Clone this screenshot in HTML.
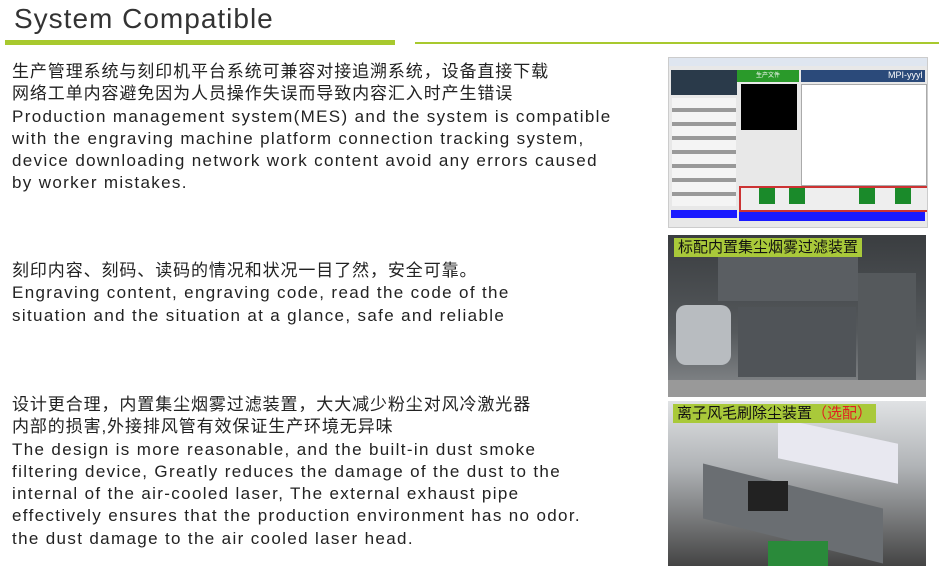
<!DOCTYPE html>
<html><head><meta charset="utf-8"><style>
body{margin:0;width:939px;height:574px;background:#fff;position:relative;overflow:hidden;font-family:"Liberation Sans","Noto Sans CJK SC",sans-serif;color:#222}
.t{position:absolute;left:14px;top:3px;font-size:28px;color:#333;letter-spacing:1px}
.b1{position:absolute;left:5px;top:40px;width:390px;height:5px;background:#a8c92e}
.b2{position:absolute;left:415px;top:42px;width:524px;height:2px;background:#a8c92e}
.p{position:absolute;left:12px;font-size:17px;line-height:22.3px;letter-spacing:1.35px;white-space:nowrap}
.p .c{letter-spacing:0.9px}
.img{position:absolute;left:668px;width:258px;overflow:hidden}
.lab{position:absolute;background:#a9c93a;color:#111;font-size:15px;padding:0 4px;line-height:19px}
</style></head><body>
<div class="t">System Compatible</div>
<div class="b1"></div><div class="b2"></div>
<div class="p" style="top:61px"><span class="c">生产管理系统与刻印机平台系统可兼容对接追溯系统，设备直接下载</span><br><span class="c">网络工单内容避免因为人员操作失误而导致内容汇入时产生错误</span><br>Production management system(MES) and the system is compatible<br>with the engraving machine platform connection tracking system,<br>device downloading network work content avoid any errors caused<br>by worker mistakes.</div>
<div class="p" style="top:260px"><span class="c">刻印内容、刻码、读码的情况和状况一目了然，安全可靠。</span><br>Engraving content, engraving code, read the code of the<br>situation and the situation at a glance, safe and reliable</div>
<div class="p" style="top:394px"><span class="c">设计更合理，内置集尘烟雾过滤装置，大大减少粉尘对风冷激光器</span><br><span class="c">内部的损害,外接排风管有效保证生产环境无异味</span><br>The design is more reasonable, and the built-in dust smoke<br>filtering device, Greatly reduces the damage of the dust to the<br>internal of the air-cooled laser, The external exhaust pipe<br>effectively ensures that the production environment has no odor.<br>the dust damage to the air cooled laser head.</div>

<div class="img" style="top:57px;height:169px;background:#e8e8e8;border:1px solid #ccc">
 <div style="position:absolute;left:0;top:0;width:258px;height:8px;background:#dfe6f0"></div>
 <div style="position:absolute;left:2px;top:12px;width:66px;height:25px;background:#2a3a4a"></div>
 <div style="position:absolute;left:68px;top:12px;width:62px;height:12px;background:#2a9a2a;color:#fff;font-size:6px;text-align:center">生产文件</div>
 <div style="position:absolute;left:132px;top:12px;width:124px;height:12px;background:#2b4a7a;color:#fff;font-size:9px;text-align:right">MPI-yyyl&nbsp;</div>
 <div style="position:absolute;left:72px;top:26px;width:56px;height:46px;background:#000"></div>
 <div style="position:absolute;left:132px;top:26px;width:124px;height:100px;background:#fff;border:1px solid #aaa"></div>
 <div style="position:absolute;left:3px;top:40px;width:64px;height:108px;background:repeating-linear-gradient(#f4f4f4 0 10px,#999 10px 14px)"></div>
 <div style="position:absolute;left:2px;top:152px;width:66px;height:8px;background:#1a1aff"></div>
 <div style="position:absolute;left:70px;top:128px;width:186px;height:22px;background:#eee;border:2px solid #c33"></div>
 <div style="position:absolute;left:90px;top:130px;width:16px;height:16px;background:#1a8a2a"></div>
 <div style="position:absolute;left:120px;top:130px;width:16px;height:16px;background:#1a8a2a"></div>
 <div style="position:absolute;left:190px;top:130px;width:16px;height:16px;background:#1a8a2a"></div>
 <div style="position:absolute;left:226px;top:130px;width:16px;height:16px;background:#1a8a2a"></div>
 <div style="position:absolute;left:70px;top:154px;width:186px;height:9px;background:#1a1aff"></div>
</div>

<div class="img" style="top:235px;height:162px;background:linear-gradient(#3a3d40,#55595c 60%,#8a8d90)">
 <div style="position:absolute;left:50px;top:18px;width:140px;height:48px;background:#5a5e62"></div>
 <div style="position:absolute;left:70px;top:72px;width:118px;height:70px;background:#505458"></div>
 <div style="position:absolute;left:190px;top:38px;width:58px;height:110px;background:#55595c"></div>
 <div style="position:absolute;left:8px;top:70px;width:55px;height:60px;background:#b8bcc0;border-radius:10px"></div>
 <div style="position:absolute;left:0;top:145px;width:258px;height:17px;background:#999"></div>
 <div class="lab" style="left:6px;top:3px">标配内置集尘烟雾过滤装置</div>
</div>

<div class="img" style="top:401px;height:165px;background:linear-gradient(#e0e2e4,#b0b3b6 40%,#444 100%)">
 <div style="position:absolute;left:110px;top:30px;width:120px;height:40px;background:#e8e8f0;transform:skewY(12deg)"></div>
 <div style="position:absolute;left:35px;top:85px;width:180px;height:55px;background:#6a6e72;transform:skewY(14deg)"></div>
 <div style="position:absolute;left:80px;top:80px;width:40px;height:30px;background:#222"></div>
 <div style="position:absolute;left:100px;top:140px;width:60px;height:25px;background:#2a8a3a"></div>
 <div class="lab" style="left:5px;top:3px">离子风毛刷除尘装置<span style="color:#e02020">（选配）</span></div>
</div>
</body></html>
